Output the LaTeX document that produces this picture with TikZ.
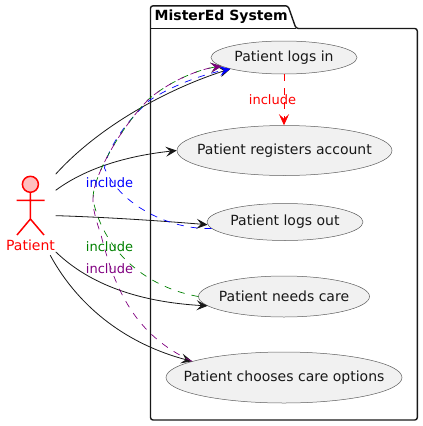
\documentclass[tikz,border=0pt]{standalone}
\usepackage{fontspec}
\setmainfont{DejaVu Sans}
\usetikzlibrary{arrows.meta,shapes.geometric}
\definecolor{ink}{HTML}{181818}
\definecolor{ufill}{HTML}{F1F1F1}
\definecolor{upurple}{HTML}{800080}
\definecolor{ugreen}{HTML}{008000}
\newcommand{\uctext}[1]{\makebox[0pt][c]{#1}}
\tikzset{
  usecase/.style={ellipse,draw=ink!70,fill=ufill,line width=0.5pt,inner sep=0pt,text=ink,font=\fontsize{14}{16}\selectfont},
  tiphead/.style={-{Stealth[length=11pt,width=10pt,inset=4.5pt]}},
  assoc/.style={tiphead,draw=ink,line width=0.8pt},
  incl/.style={tiphead,dash pattern=on 7pt off 7pt,line width=0.7pt},
  inctext/.style={font=\fontsize{13}{15}\selectfont,inner sep=0pt},
  actorline/.style={draw=red,line width=1.5pt}
}
\begin{document}
\begin{tikzpicture}[x=1pt,y=-1pt]
\useasboundingbox (0,0) rectangle (423,426);
% package
\draw[ink,line width=1.4pt,rounded corners=2.5pt] (150.5,28.5) -- (150.5,5.8) -- (288,5.8) -- (296,28.5) -- (417.3,28.5) -- (417.3,420) -- (150.5,420) -- cycle;
\draw[ink,line width=1.4pt] (150.5,28.5) -- (296,28.5);
\node[anchor=west,font=\bfseries\fontsize{14}{16}\selectfont,text=black,inner sep=0pt] (title) at (154.5,16.5) {MisterEd System};
% use cases
\node[usecase,minimum width=146pt,minimum height=33pt] (login) at (284,57.5) {\uctext{Patient logs in}};
\node[usecase,minimum width=215pt,minimum height=50pt] (register) at (284.5,150.5) {\uctext{Patient registers account}};
\node[usecase,minimum width=156pt,minimum height=37pt] (logout) at (285,222) {\uctext{Patient logs out}};
\node[usecase,minimum width=171pt,minimum height=41pt] (needs) at (284,296.5) {\uctext{Patient needs care}};
\node[usecase,minimum width=236pt,minimum height=51pt] (chooses) at (284,377.5) {\uctext{Patient chooses care options}};
% actor
\node[minimum width=50pt,minimum height=84pt,inner sep=0pt] (actor) at (30.5,213) {};
\draw[actorline,fill=pink] (30.4,184.3) circle (8pt);
\draw[actorline] (30.4,192.3) -- (30.4,219) (16.5,200.3) -- (44.5,200.3) (17,235) -- (30.4,219) -- (44,235);
\node[font=\fontsize{14}{16}\selectfont,text=red,inner sep=0pt] (patient) at (30.5,245) {Patient};
% associations
\draw[assoc] (actor.57) .. controls (100,125) and (170,88) .. (login.192);
\draw[assoc] (actor.42) .. controls (90,165) and (135,155) .. (register.west);
\draw[assoc] (actor.-6) .. controls (100,217) and (150,220) .. (logout.182);
\draw[assoc] (actor.-57) .. controls (90,285) and (140,302) .. (needs.187);
\draw[assoc] (actor.-65) .. controls (80,310) and (130,345) .. (chooses.170);
% includes
\draw[incl,red] (login.south) -- (login.south |- register.north);
\draw[incl,blue] (logout.185) .. controls (170,230) and (120,205) .. (104.5,168) .. controls (108,145) and (130,118) .. (150,100) .. controls (175,84) and (205,74) .. (login.192);
\draw[incl,ugreen] (needs.180) .. controls (150,288) and (105,255) .. (93,200) .. controls (92,175) and (125,122) .. (150,98) .. controls (172,80) and (200,69) .. (login.188);
\draw[incl,upurple] (chooses.170) .. controls (135,335) and (115,290) .. (101,235) .. controls (96,220) and (93,210) .. (93,200) .. controls (92,175) and (125,122) .. (150,98) .. controls (172,80) and (200,69) .. (login.188);
% labels
\node[inctext,text=red] (l1) at (272.5,100) {include};
\node[inctext,text=blue] (l2) at (109.5,183) {include};
\node[inctext,text=ugreen] (l3) at (109.5,246.7) {include};
\node[inctext,text=upurple] (l4) at (109.5,268.7) {include};
\end{tikzpicture}
\end{document}
